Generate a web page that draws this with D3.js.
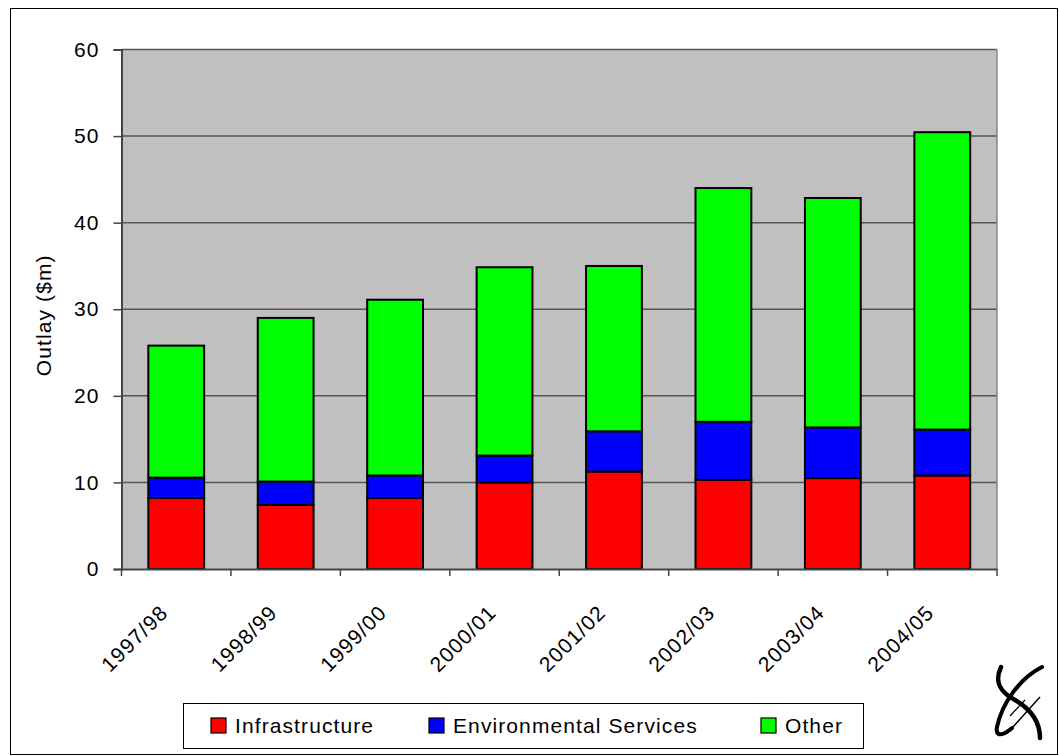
<!DOCTYPE html>
<html>
<head>
<meta charset="utf-8">
<script src="https://cdn.jsdelivr.net/npm/d3@7"></script>
<style>
  body { margin: 0; background: #fff; }
  svg { display: block; font-family: 'Liberation Sans', Arial, sans-serif; }
</style>
</head>
<body>
<svg id="chart" width="1059" height="756"></svg>
<script>
// chart data
const years = ['1997/98', '1998/99', '1999/00', '2000/01', '2001/02', '2002/03', '2003/04', '2004/05']
const infrastructure = [8.2, 7.4, 8.2, 10.0, 11.25, 10.3, 10.5, 10.8]
const environmental = [2.35, 2.7, 2.6, 3.1, 4.65, 6.7, 5.85, 5.3]
const other = [15.25, 18.9, 20.3, 21.75, 19.1, 27.0, 26.5, 34.35]
const seriesNames = ['Infrastructure', 'Environmental Services', 'Other']
const seriesColors = ['#ff0000', '#0000ff', '#00ff00']
const yTicks = [0, 10, 20, 30, 40, 50, 60]

const FONT = 21
const SPACING = 1.1

const svg = d3.select('#chart')

// outer frame
svg.append('rect')
  .attr('x', 10.5).attr('y', 8.5)
  .attr('width', 1047).attr('height', 746)
  .attr('fill', 'white').attr('stroke', '#000').attr('stroke-width', 1)

const plot = { left: 121.5, right: 997, top: 49.5, bottom: 569 }

const x = d3.scaleBand().domain(years).range([plot.left, plot.right]).padding(0)
const y = d3.scaleLinear().domain([0, 60]).range([plot.bottom, plot.top])

// plot background
svg.append('rect')
  .attr('x', plot.left).attr('y', plot.top)
  .attr('width', plot.right - plot.left).attr('height', plot.bottom - plot.top)
  .attr('fill', '#c0c0c0')

// gridlines
svg.append('g')
  .selectAll('line')
  .data(yTicks.filter(t => t > 0))
  .enter()
  .append('line')
  .attr('x1', plot.left).attr('x2', plot.right)
  .attr('y1', d => y(d)).attr('y2', d => y(d))
  .attr('stroke', '#555').attr('stroke-width', 1.5)

// right edge of plot
svg.append('line')
  .attr('x1', plot.right).attr('x2', plot.right)
  .attr('y1', plot.top).attr('y2', plot.bottom)
  .attr('stroke', '#888').attr('stroke-width', 1.5)

// stacked bars
const rows = years.map((yr, i) => ({
  year: yr,
  Infrastructure: infrastructure[i],
  'Environmental Services': environmental[i],
  Other: other[i]
}))
const stacked = d3.stack().keys(seriesNames)(rows)
const barW = x.bandwidth() * 0.51

svg.append('g')
  .selectAll('g')
  .data(stacked)
  .enter()
  .append('g')
  .attr('fill', (d, i) => seriesColors[i])
  .selectAll('rect')
  .data(d => d)
  .enter()
  .append('rect')
  .attr('x', d => x(d.data.year) + (x.bandwidth() - barW) / 2)
  .attr('width', barW)
  .attr('y', d => y(d[1]))
  .attr('height', d => y(d[0]) - y(d[1]))
  .attr('stroke', '#000')
  .attr('stroke-width', 2)

// y axis
const yAxis = svg.append('g')
  .attr('transform', `translate(${plot.left},0)`)
  .call(d3.axisLeft(y).tickValues(yTicks).tickSize(8).tickPadding(14))
yAxis.select('.domain').attr('stroke', '#444').attr('stroke-width', 2)
yAxis.selectAll('.tick line').attr('stroke', '#444').attr('stroke-width', 1.5)
yAxis.selectAll('.tick text')
  .attr('font-size', FONT).attr('letter-spacing', SPACING).attr('fill', '#000')
  .attr('font-family', 'Liberation Sans, Arial, sans-serif')

// x axis
const xAxis = svg.append('g')
  .attr('transform', `translate(0,${plot.bottom})`)
  .call(d3.axisBottom(x).tickSize(0).tickFormat(''))
xAxis.select('.domain').attr('stroke', '#444').attr('stroke-width', 2)

// category boundary ticks
svg.append('g')
  .selectAll('line')
  .data(years.map(yr => x(yr)).concat([plot.right]))
  .enter()
  .append('line')
  .attr('x1', d => d).attr('x2', d => d)
  .attr('y1', plot.bottom).attr('y2', plot.bottom + 7)
  .attr('stroke', '#444').attr('stroke-width', 1.5)

// rotated labels
svg.append('g')
  .selectAll('text')
  .data(years)
  .enter()
  .append('text')
  .attr('transform', d => `translate(${x(d) + x.bandwidth() / 2 - 7},${plot.bottom + 45}) rotate(-45)`)
  .attr('text-anchor', 'end')
  .attr('font-size', FONT)
  .attr('letter-spacing', SPACING)
  .text(d => d)

// y title
svg.append('text')
  .attr('transform', `translate(51,${(plot.top + plot.bottom) / 2 + 6}) rotate(-90)`)
  .attr('text-anchor', 'middle')
  .attr('font-size', FONT)
  .attr('letter-spacing', SPACING)
  .text('Outlay ($m)')

// legend
const legend = svg.append('g')
legend.append('rect')
  .attr('x', 183.5).attr('y', 703.5)
  .attr('width', 680).attr('height', 45)
  .attr('fill', 'white').attr('stroke', '#000').attr('stroke-width', 1)

const legendX = [211, 429, 761]
const items = legend.selectAll('g.item')
  .data(seriesNames)
  .enter()
  .append('g')
  .attr('class', 'item')
  .attr('transform', (d, i) => `translate(${legendX[i]},718)`)
items.append('rect')
  .attr('width', 15).attr('height', 15)
  .attr('fill', (d, i) => seriesColors[i])
  .attr('stroke', '#000').attr('stroke-width', 1.2)
items.append('text')
  .attr('x', 24).attr('y', 15)
  .attr('font-size', FONT)
  .attr('letter-spacing', SPACING)
  .text(d => d)

// logo mark
const logo = svg.append('g')
logo.append('path')
  .attr('d', 'M1001,667 C994,682 1000,692 1015,700 C1032,710 1040,722 1040,738')
  .attr('fill', 'none').attr('stroke', '#000').attr('stroke-width', 4.5).attr('stroke-linecap', 'round')
logo.append('path')
  .attr('d', 'M1042,667 C1020,678 1002,703 997,727 C995,737 1003,736 1012,728')
  .attr('fill', 'none').attr('stroke', '#000').attr('stroke-width', 4).attr('stroke-linecap', 'round')
logo.append('path')
  .attr('d', 'M1012,728 L1040,697')
  .attr('fill', 'none').attr('stroke', '#000').attr('stroke-width', 1.5)
logo.append('line')
  .attr('x1', 1010).attr('y1', 716).attr('x2', 1025).attr('y2', 700)
  .attr('stroke', '#000').attr('stroke-width', 1.2)
</script>
</body>
</html>
